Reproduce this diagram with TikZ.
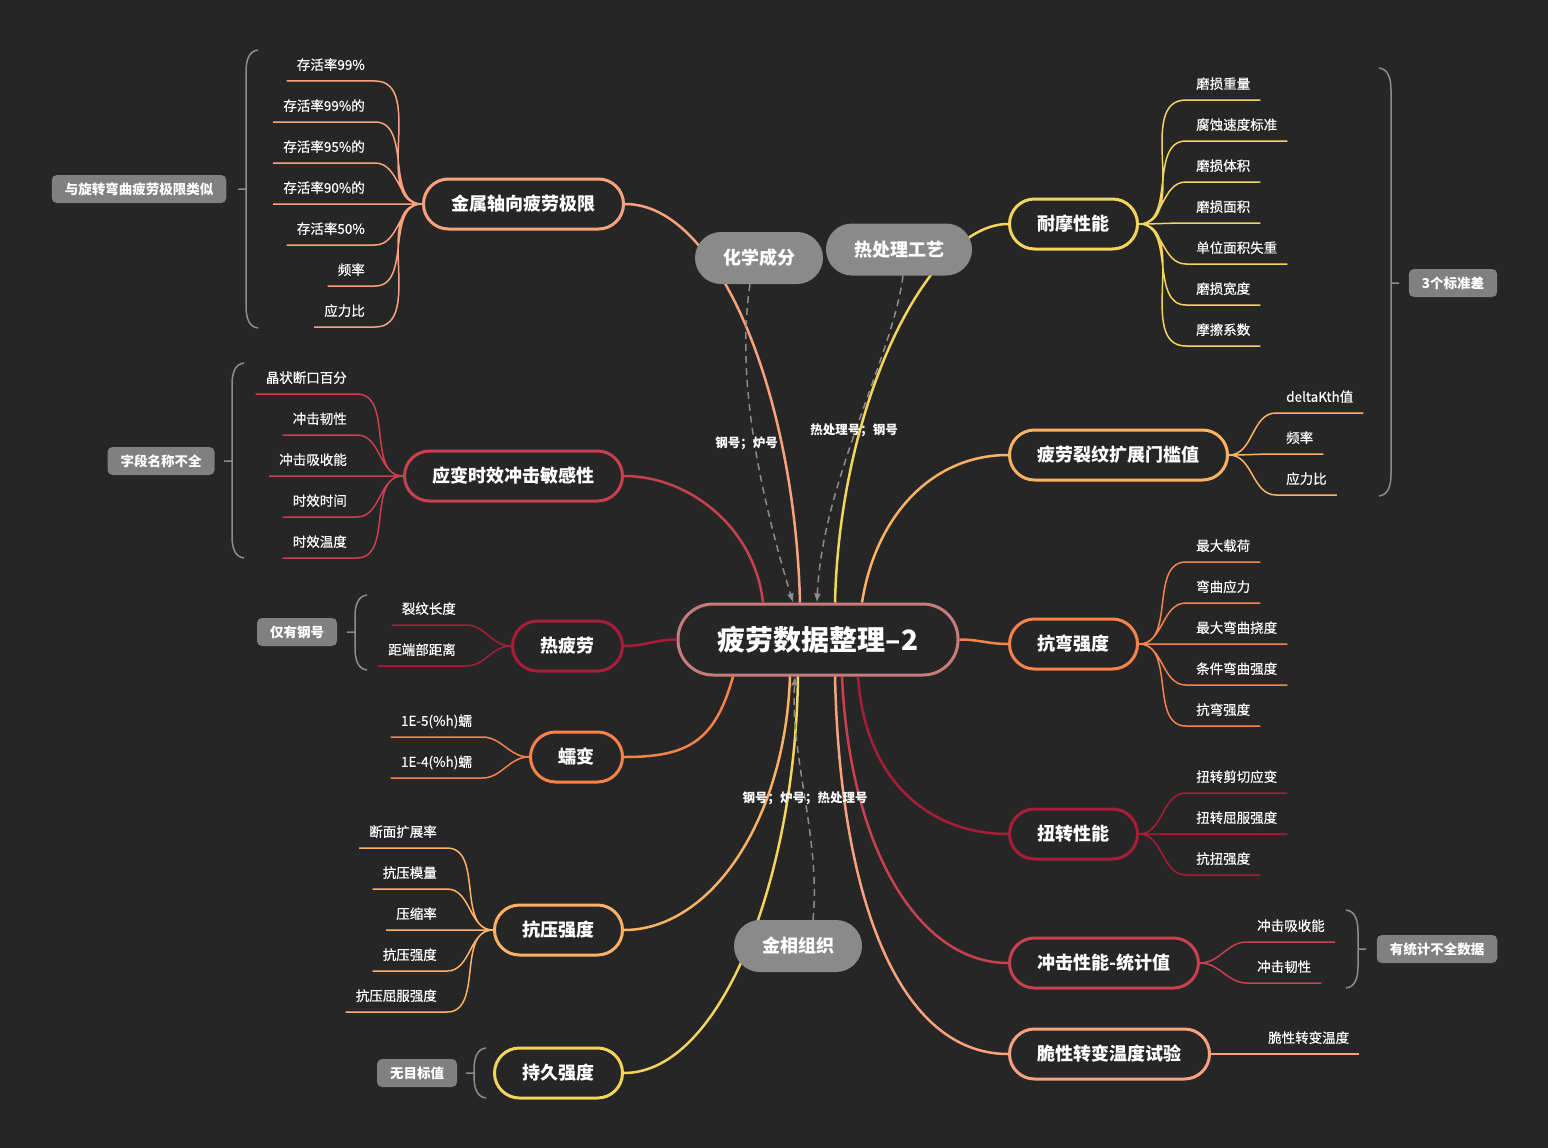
\documentclass[tikz,border=0pt]{standalone}
\usepackage{fontspec}
\setmainfont{Noto Sans CJK SC}
\newfontfamily\leaffont{Noto Sans CJK SC}[FakeBold=0.4]
\usepackage{tikz}
\usetikzlibrary{arrows.meta}
\definecolor{bgc}{RGB}{38,38,38}
\definecolor{cRoot}{RGB}{199,124,124}
\definecolor{cSalmon}{RGB}{250,162,126}
\definecolor{cYellow}{RGB}{243,212,92}
\definecolor{cLOrange}{RGB}{252,178,98}
\definecolor{cOrange}{RGB}{247,130,74}
\definecolor{cDRed}{RGB}{168,30,56}
\definecolor{cRed}{RGB}{201,64,78}
\definecolor{cFloat}{RGB}{138,138,138}
\definecolor{cNote}{RGB}{128,128,128}
\definecolor{cLine}{RGB}{140,140,140}
\tikzset{main node/.style={draw,line width=3pt,fill=bgc,rounded corners=25pt,minimum height=50pt,inner xsep=28pt,text=white,font=\fontsize{18}{20}\selectfont\bfseries},
         root node/.style={main node,draw=cRoot,rounded corners=35pt,minimum height=71pt,minimum width=280pt,font=\fontsize{28}{30}\selectfont\bfseries},
         float node/.style={fill=cFloat,rounded corners=26pt,minimum height=52pt,inner xsep=28pt,text=white,font=\fontsize{18}{20}\selectfont\bfseries},
         note node/.style={fill=cNote,rounded corners=5pt,minimum height=28pt,inner xsep=13pt,text=white,font=\fontsize{13.5}{15}\selectfont\bfseries},
         leaf/.style={inner xsep=10pt,inner ysep=9pt,text height=11pt,text depth=2pt,text=white,font=\leaffont\fontsize{13.5}{15}\selectfont},
         branch/.style={line width=2.5pt},
         twig/.style={line width=1.5pt},
         relation/.style={draw=cLine,line width=1.5pt,dash pattern=on 7pt off 5pt,-{Latex[length=9pt,width=7pt]}},
         rel label/.style={text=white,font=\fontsize{12.5}{14}\selectfont\bfseries},
         bracket/.style={draw=cLine,line width=1.5pt},
            }
% brace: x of spine, top, bottom, y of tick
\newcommand{\groupL}[4]{\draw[bracket] (#1+12,#2) .. controls +(-9,1) and +(0,-12) .. (#1,#2+22) -- (#1,#3-22) .. controls +(0,12) and +(-9,-1) .. (#1+12,#3) (#1,#4) -- (#1-8,#4);}
\newcommand{\groupR}[4]{\draw[bracket] (#1-12,#2) .. controls +(9,1) and +(0,-12) .. (#1,#2+22) -- (#1,#3-22) .. controls +(0,12) and +(9,-1) .. (#1-12,#3) (#1,#4) -- (#1+8,#4);}

\begin{document}
\begin{tikzpicture}[x=1pt,y=-1pt]
    \fill[bgc] (0,0) rectangle (1548,1148);
    \useasboundingbox (0,0) rectangle (1548,1148);

    \node[root node] (root) at (818,639.5) {疲劳数据整理–2};

    % left side
    \node[main node,draw=cSalmon,anchor=east] (mp) at (625,204) {金属轴向疲劳极限};
    \node[main node,draw=cRed,anchor=east] (yb) at (624,476) {应变时效冲击敏感性};
    \node[main node,draw=cDRed,anchor=east] (rp) at (624,646) {热疲劳};
    \node[main node,draw=cOrange,anchor=east] (rb) at (624,757) {蠕变};
    \node[main node,draw=cLOrange,anchor=east] (ky) at (624,930) {抗压强度};
    \node[main node,draw=cYellow,anchor=east] (cj) at (624,1073) {持久强度};

    % right side
    \node[main node,draw=cYellow,anchor=west] (nm) at (1008,224) {耐摩性能};
    \node[main node,draw=cLOrange,anchor=west] (pl) at (1008,455) {疲劳裂纹扩展门槛值};
    \node[main node,draw=cOrange,anchor=west] (kw) at (1008,644) {抗弯强度};
    \node[main node,draw=cDRed,anchor=west] (nz) at (1008,834) {扭转性能};
    \node[main node,draw=cRed,anchor=west] (cs) at (1008,963) {冲击性能-统计值};
    \node[main node,draw=cSalmon,anchor=west] (cx) at (1008,1054) {脆性转变温度试验};

    % leaves
    \node[leaf,anchor=south east] (mp1) at (375,81) {存活率99\%};
    \node[leaf,anchor=south east] (mp2) at (375,122) {存活率99\%的};
    \node[leaf,anchor=south east] (mp3) at (375,163) {存活率95\%的};
    \node[leaf,anchor=south east] (mp4) at (375,204) {存活率90\%的};
    \node[leaf,anchor=south east] (mp5) at (375,245) {存活率50\%};
    \node[leaf,anchor=south east] (mp6) at (375,286) {频率};
    \node[leaf,anchor=south east] (mp7) at (375,327) {应力比};

    \node[leaf,anchor=south east] (yb1) at (357,394) {晶状断口百分};
    \node[leaf,anchor=south east] (yb2) at (357,435) {冲击韧性};
    \node[leaf,anchor=south east] (yb3) at (357,476) {冲击吸收能};
    \node[leaf,anchor=south east] (yb4) at (357,517) {时效时间};
    \node[leaf,anchor=south east] (yb5) at (357,558) {时效温度};

    \node[leaf,anchor=south east] (rp1) at (466,625) {裂纹长度};
    \node[leaf,anchor=south east] (rp2) at (466,666) {距端部距离};

    \node[leaf,anchor=south east] (rb1) at (482,737) {1E-5(\%h)蠕};
    \node[leaf,anchor=south east] (rb2) at (482,778) {1E-4(\%h)蠕};

    \node[leaf,anchor=south east] (ky1) at (447,848) {断面扩展率};
    \node[leaf,anchor=south east] (ky2) at (447,889) {抗压模量};
    \node[leaf,anchor=south east] (ky3) at (447,930) {压缩率};
    \node[leaf,anchor=south east] (ky4) at (447,971) {抗压强度};
    \node[leaf,anchor=south east] (ky5) at (447,1012) {抗压屈服强度};

    \node[leaf,anchor=south west] (nm1) at (1186,100) {磨损重量};
    \node[leaf,anchor=south west] (nm2) at (1186,141) {腐蚀速度标准};
    \node[leaf,anchor=south west] (nm3) at (1186,182) {磨损体积};
    \node[leaf,anchor=south west] (nm4) at (1186,223) {磨损面积};
    \node[leaf,anchor=south west] (nm5) at (1186,264) {单位面积失重};
    \node[leaf,anchor=south west] (nm6) at (1186,305) {磨损宽度};
    \node[leaf,anchor=south west] (nm7) at (1186,346) {摩擦系数};

    \node[leaf,anchor=south west] (pl1) at (1276,413) {deltaKth值};
    \node[leaf,anchor=south west] (pl2) at (1276,454) {频率};
    \node[leaf,anchor=south west] (pl3) at (1276,495) {应力比};

    \node[leaf,anchor=south west] (kw1) at (1186,562) {最大载荷};
    \node[leaf,anchor=south west] (kw2) at (1186,603) {弯曲应力};
    \node[leaf,anchor=south west] (kw3) at (1186,644) {最大弯曲挠度};
    \node[leaf,anchor=south west] (kw4) at (1186,685) {条件弯曲强度};
    \node[leaf,anchor=south west] (kw5) at (1186,726) {抗弯强度};

    \node[leaf,anchor=south west] (nz1) at (1186,793) {扭转剪切应变};
    \node[leaf,anchor=south west] (nz2) at (1186,834) {扭转屈服强度};
    \node[leaf,anchor=south west] (nz3) at (1186,875) {抗扭强度};

    \node[leaf,anchor=south west] (cs1) at (1247,942) {冲击吸收能};
    \node[leaf,anchor=south west] (cs2) at (1247,983) {冲击韧性};

    \node[leaf,anchor=south west] (cx1) at (1258,1054) {脆性转变温度};

    % notes and braces
    \node[note node] (nt1) at (139,189) {与旋转弯曲疲劳极限类似};
    \node[note node] (nt2) at (161,461) {字段名称不全};
    \node[note node] (nt3) at (297,632) {仅有钢号};
    \node[note node] (nt4) at (417,1073) {无目标值};
    \node[note node] (nt5) at (1453,283) {3个标准差};
    \node[note node] (nt6) at (1437,949) {有统计不全数据};

    \groupL{246}{50}{328}{189}
    \groupL{232}{363}{558}{461}
    \groupL{355}{595}{670}{632}
    \groupL{474}{1048}{1098}{1073}
    \groupR{1391}{68}{496}{283}
    \groupR{1358}{910}{988}{949}

    % root to topics
    \draw[branch,cSalmon] ([xshift=-18pt]root.north) .. controls +(-5,-204) and +(95,0) .. (mp.east);
    \draw[branch,cRed] ([xshift=-55pt]root.north) .. controls +(-8,-74) and +(66,0) .. (yb.east);
    \draw[branch,cDRed] (root.west) to[out=180,in=0] (rp.east);
    \draw[branch,cOrange] ([xshift=-85pt]root.south) .. controls +(-18,65) and +(64,0) .. (rb.east);
    \draw[branch,cLOrange] ([xshift=-28pt]root.south) .. controls +(-5,145) and +(86,0) .. (ky.east);
    \draw[branch,cYellow] ([xshift=-20pt]root.south) .. controls +(-3,205) and +(96,0) .. (cj.east);
    \draw[branch,cYellow] ([xshift=17pt]root.north) .. controls +(5,-204) and +(-78,0) .. (nm.west);
    \draw[branch,cLOrange] ([xshift=44pt]root.north) .. controls +(13,-84) and +(-78,0) .. (pl.west);
    \draw[branch,cOrange] (root.east) to[out=0,in=180] (kw.west);
    \draw[branch,cDRed] ([xshift=40pt]root.south) .. controls +(7,105) and +(-78,0) .. (nz.west);
    \draw[branch,cRed] ([xshift=24pt]root.south) .. controls +(8,175) and +(-88,0) .. (cs.west);
    \draw[branch,cSalmon] ([xshift=17pt]root.south) .. controls +(5,225) and +(-108,0) .. (cx.west);

    % topics to leaves
    \draw[twig,cSalmon]
    (mp.west) to[out=180,in=0] (mp1.south east) -- (mp1.south west)
    (mp.west) to[out=180,in=0] (mp2.south east) -- (mp2.south west)
    (mp.west) to[out=180,in=0] (mp3.south east) -- (mp3.south west)
    (mp.west) to[out=180,in=0] (mp4.south east) -- (mp4.south west)
    (mp.west) to[out=180,in=0] (mp5.south east) -- (mp5.south west)
    (mp.west) to[out=180,in=0] (mp6.south east) -- (mp6.south west)
    (mp.west) to[out=180,in=0] (mp7.south east) -- (mp7.south west);

    \draw[twig,cRed]
    (yb.west) to[out=180,in=0] (yb1.south east) -- (yb1.south west)
    (yb.west) to[out=180,in=0] (yb2.south east) -- (yb2.south west)
    (yb.west) to[out=180,in=0] (yb3.south east) -- (yb3.south west)
    (yb.west) to[out=180,in=0] (yb4.south east) -- (yb4.south west)
    (yb.west) to[out=180,in=0] (yb5.south east) -- (yb5.south west);

    \draw[twig,cDRed]
    (rp.west) to[out=180,in=0] (rp1.south east) -- (rp1.south west)
    (rp.west) to[out=180,in=0] (rp2.south east) -- (rp2.south west);

    \draw[twig,cOrange]
    (rb.west) to[out=180,in=0] (rb1.south east) -- (rb1.south west)
    (rb.west) to[out=180,in=0] (rb2.south east) -- (rb2.south west);

    \draw[twig,cLOrange]
    (ky.west) to[out=180,in=0] (ky1.south east) -- (ky1.south west)
    (ky.west) to[out=180,in=0] (ky2.south east) -- (ky2.south west)
    (ky.west) to[out=180,in=0] (ky3.south east) -- (ky3.south west)
    (ky.west) to[out=180,in=0] (ky4.south east) -- (ky4.south west)
    (ky.west) to[out=180,in=0] (ky5.south east) -- (ky5.south west);

    \draw[twig,cYellow]
    (nm.east) to[out=0,in=180] (nm1.south west) -- (nm1.south east)
    (nm.east) to[out=0,in=180] (nm2.south west) -- (nm2.south east)
    (nm.east) to[out=0,in=180] (nm3.south west) -- (nm3.south east)
    (nm.east) to[out=0,in=180] (nm4.south west) -- (nm4.south east)
    (nm.east) to[out=0,in=180] (nm5.south west) -- (nm5.south east)
    (nm.east) to[out=0,in=180] (nm6.south west) -- (nm6.south east)
    (nm.east) to[out=0,in=180] (nm7.south west) -- (nm7.south east);

    \draw[twig,cLOrange]
    (pl.east) to[out=0,in=180] (pl1.south west) -- (pl1.south east)
    (pl.east) to[out=0,in=180] (pl2.south west) -- (pl2.south east)
    (pl.east) to[out=0,in=180] (pl3.south west) -- (pl3.south east);

    \draw[twig,cOrange]
    (kw.east) to[out=0,in=180] (kw1.south west) -- (kw1.south east)
    (kw.east) to[out=0,in=180] (kw2.south west) -- (kw2.south east)
    (kw.east) to[out=0,in=180] (kw3.south west) -- (kw3.south east)
    (kw.east) to[out=0,in=180] (kw4.south west) -- (kw4.south east)
    (kw.east) to[out=0,in=180] (kw5.south west) -- (kw5.south east);

    \draw[twig,cDRed]
    (nz.east) to[out=0,in=180] (nz1.south west) -- (nz1.south east)
    (nz.east) to[out=0,in=180] (nz2.south west) -- (nz2.south east)
    (nz.east) to[out=0,in=180] (nz3.south west) -- (nz3.south east);

    \draw[twig,cRed]
    (cs.east) to[out=0,in=180] (cs1.south west) -- (cs1.south east)
    (cs.east) to[out=0,in=180] (cs2.south west) -- (cs2.south east);

    \draw[twig,cSalmon]
    (cx.east) to[out=0,in=180] (cx1.south west) -- (cx1.south east);

    % floating topics
    \node[float node] (hx) at (759,258) {化学成分};
    \node[float node] (rc) at (899,249.5) {热处理工艺};
    \node[float node] (jx) at (798,946) {金相组织};

    \draw[relation] ([xshift=-9pt]hx.south) .. controls +(-15,100) and +(-30,-100) .. ([xshift=-25pt]root.north) node[rel label,pos=0.5,xshift=-8pt] {钢号；炉号};
    \draw[relation] ([xshift=4pt]rc.south) .. controls +(-10,80) and +(5,-120) .. ([xshift=-1pt]root.north) node[rel label,pos=0.5,xshift=-4pt,yshift=-6pt] {热处理号；钢号};
    \draw[relation] ([xshift=15pt]jx.north) .. controls +(8,-80) and +(-5,80) .. ([xshift=-23pt]root.south) node[rel label,pos=0.5] {钢号；炉号；热处理号};
\end{tikzpicture}
\end{document}
